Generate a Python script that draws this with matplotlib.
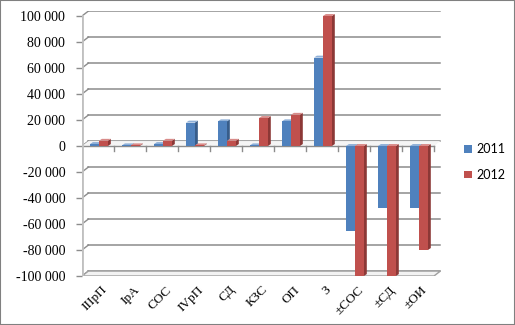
import matplotlib.pyplot as plt
from matplotlib.patches import Polygon, Rectangle, Patch

plt.rcParams['font.family'] = ['Liberation Serif', 'DejaVu Serif']

categories = ['IIIрП', 'IрА', 'СОС', 'IVрП', 'СД', 'КЗС', 'ОП', 'З', '±СОС', '±СД', '±ОИ']
values_2011 = [1500, 500, 1500, 18000, 19000, 500, 19000, 68000, -65000, -47500, -47500]
values_2012 = [4000, 500, 4000, 500, 4000, 21500, 24000, 100000, -100000, -100000, -80000]
yticks = list(range(-100000, 100001, 20000))

blue = ('#4f81bd', '#385d8a', '#8fb0d8')
red = ('#c0504d', '#8c3836', '#d98b89')

# depth of bars and of the back wall (data units)
bdx, bdy = 0.09, 1500
wdx, wdy = 0.2, 3800
n = len(categories)

fig = plt.figure(figsize=(5.15, 3.25), dpi=100)
ax = fig.add_axes([82 / 515, (325 - 276) / 325, (442 - 82) / 515, (276 - 10.8) / 325])
ax.set_xlim(0, n + 0.25)
ax.set_ylim(-100000, 104000)
for s in ax.spines.values():
    s.set_visible(False)

# back wall grid and the diagonal ticks
for y in yticks:
    ax.plot([wdx, n + wdx], [y + wdy, y + wdy], color='#8c8c8c', lw=1.1, zorder=1)
    ax.plot([0, wdx], [y, y + wdy], color='#8c8c8c', lw=1.0, zorder=1)

# floor
floor = Polygon([(0, -100000), (n, -100000), (n + wdx, -100000 + wdy), (wdx, -100000 + wdy)],
                closed=True, facecolor='#f2f2f2', edgecolor='#a0a0a0', lw=1.0, zorder=1)
ax.add_patch(floor)
# zero plane
ax.add_patch(Polygon([(0, 0), (n, 0), (n + wdx, wdy), (wdx, wdy)], closed=True,
                     facecolor='#f5f5f5', edgecolor='none', zorder=1.5))
ax.plot([0, n], [0, 0], color='#8c8c8c', lw=1.0, zorder=2)
for i in range(1, n + 1):
    ax.plot([i, i], [0, -3500], color='#8c8c8c', lw=1.0, zorder=2)

# y axis line
ax.plot([0, 0], [-100000, 100000], color='#c0c0c0', lw=2, zorder=2)


def bar3d(x0, w, v, colors):
    front, side, top = colors
    lo, hi = min(0, v), max(0, v)
    ax.add_patch(Polygon([(x0 + w, lo), (x0 + w + bdx, lo + bdy), (x0 + w + bdx, hi + bdy), (x0 + w, hi)],
                         closed=True, facecolor=side, edgecolor='none', zorder=3))
    ax.add_patch(Polygon([(x0, hi), (x0 + w, hi), (x0 + w + bdx, hi + bdy), (x0 + bdx, hi + bdy)],
                         closed=True, facecolor=top, edgecolor='none', zorder=3))
    ax.add_patch(Rectangle((x0, lo), w, hi - lo, facecolor=front, edgecolor='none', zorder=3))


w = 0.28
for i in range(n):
    bar3d(i + 0.25, w, values_2011[i], blue)
    bar3d(i + 0.25 + w, w, values_2012[i], red)

ax.set_xticks([])
ax.set_yticks(yticks)
ax.set_yticklabels([f'{v:,}'.replace(',', ' ') for v in yticks], fontsize=10)
ax.tick_params(axis='y', length=4, width=1, color='#8c8c8c', pad=8)

for i, lab in enumerate(categories):
    ax.text(i + 0.6, -106000, lab, rotation=45, ha='right', va='top',
            rotation_mode='anchor', fontsize=9.5)

fig.legend(handles=[Patch(facecolor=blue[0], label='2011'), Patch(facecolor=red[0], label='2012')],
           loc='center left', bbox_to_anchor=(453 / 515, 1 - 162 / 325), frameon=False,
           handlelength=0.6, handleheight=0.6, handletextpad=0.4, labelspacing=1.1,
           prop={'family': 'Lato', 'size': 9})

fig.patches.append(Rectangle((0, 0), 1, 1, transform=fig.transFigure, fill=False,
                             edgecolor='#808080', lw=1.5))

fig.savefig('out.png', dpi=100)
